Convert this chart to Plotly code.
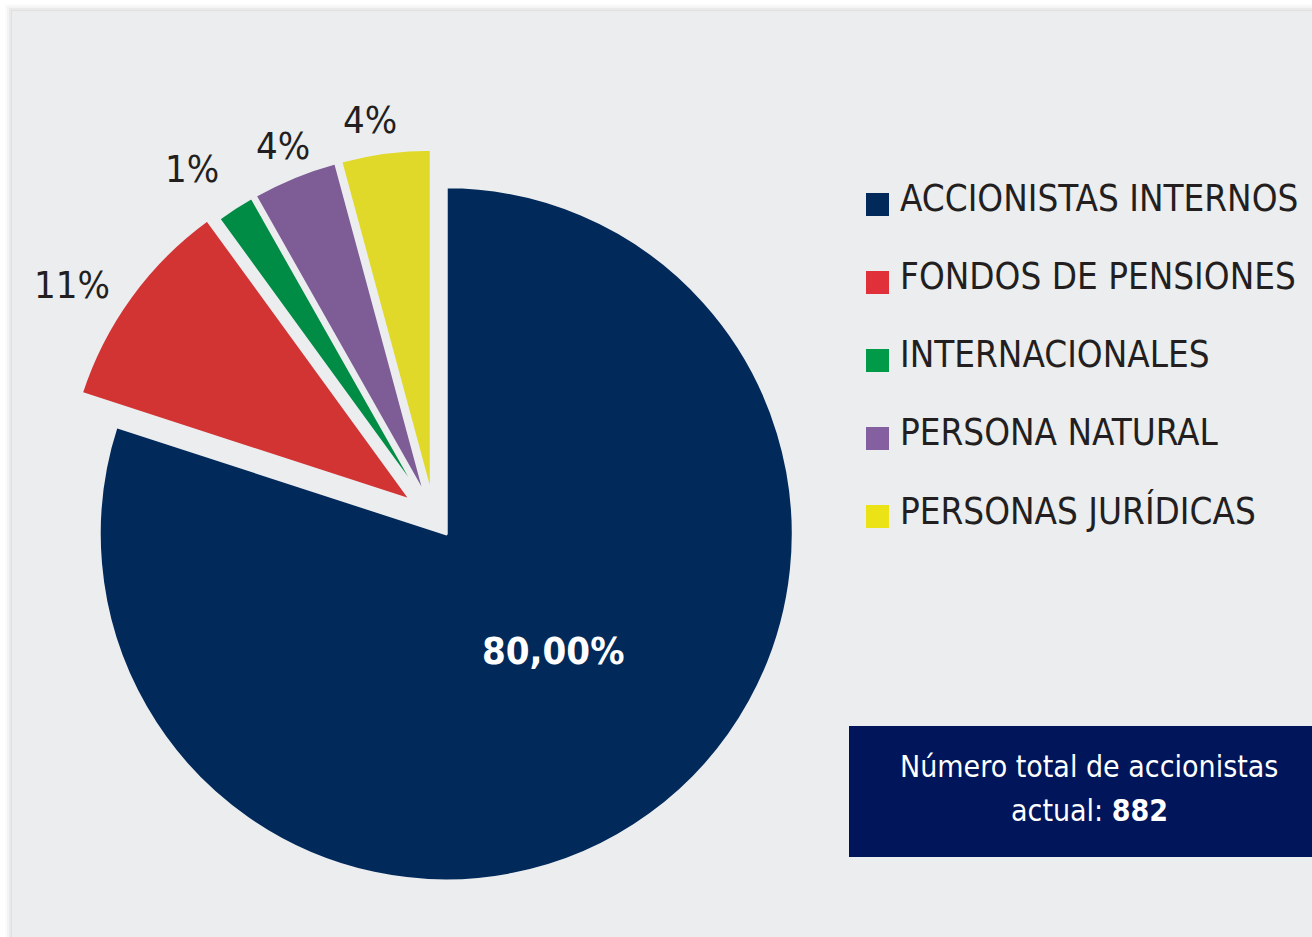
'''
composición accionaria - pie chart
'''

import plotly.graph_objects as go

#### data
categories = ['ACCIONISTAS INTERNOS', 'FONDOS DE PENSIONES', 'INTERNACIONALES',
              'PERSONA NATURAL', 'PERSONAS JURÍDICAS']
values = [80.0, 10.0, 1.8, 4.0, 4.2]
value_labels = ['80,00%', '11%', '1%', '4%', '4%']
slice_colors = ['#012A5B', '#D23434', '#008C44', '#7E5C96', '#E0D92A']
legend_colors = ['#012A5B', '#E0303A', '#009A48', '#8560A0', '#EBE316']
total_shareholders = 882

#### layout settings (pixels from top-left)
W, H = 1312, 937
BG = '#ECEDEF'
FONT = 'Liberation Sans Narrow, DejaVu Sans Condensed, sans-serif'
label_pos = [(553, 651), (72, 285), (192, 169), (283, 146), (370, 120)]
pulls = [0.06, 0.081, 0.06, 0.06, 0.06]
pie_cx, pie_cy, pie_r = 434, 517, 347
pie_half = pie_r * (1 + max(pulls))

def px(x):
    return x / W

def py(y):
    return (H - y) / H

#### pie
fig = go.Figure()
fig.add_trace(go.Pie(
    labels=categories,
    values=values,
    textinfo='none',
    sort=False,
    direction='clockwise',
    rotation=0,
    pull=pulls,
    marker=dict(colors=slice_colors, line=dict(color=BG, width=3)),
    showlegend=False,
    hoverinfo='label+percent',
    domain=dict(x=[px(pie_cx - pie_half), px(pie_cx + pie_half)],
                y=[py(pie_cy + pie_half), py(pie_cy - pie_half)]),
))

#### panel background with a soft shadow
shapes = []
for k, op in [(7, 0.06), (5, 0.10), (3, 0.16), (1, 0.22)]:
    shapes.append(dict(type='rect', xref='paper', yref='paper', layer='below',
                       x0=px(12 - k), x1=1.02, y0=-0.02, y1=py(11 - k),
                       fillcolor='#BDBDBD', opacity=op, line=dict(width=0)))
shapes.append(dict(type='rect', xref='paper', yref='paper', layer='below',
                   x0=px(12), x1=1.02, y0=-0.02, y1=py(11),
                   fillcolor=BG, line=dict(width=0)))

annotations = []

#### slice labels
for i, (txt, (x, y)) in enumerate(zip(value_labels, label_pos)):
    if i == 0:
        f = dict(family=FONT, size=38, color='white', weight='bold')
    else:
        f = dict(family=FONT, size=38, color='#231F20')
    annotations.append(dict(xref='paper', yref='paper', x=px(x), y=py(y),
                            xanchor='center', yanchor='middle', showarrow=False,
                            text=txt, font=f))

#### manual legend
row0, step = 204.5, 78
for i, (name, col) in enumerate(zip(categories, legend_colors)):
    yc = row0 + i * step
    shapes.append(dict(type='rect', xref='paper', yref='paper',
                       x0=px(866), x1=px(889), y0=py(yc + 11.5), y1=py(yc - 11.5),
                       fillcolor=col, line=dict(width=0)))
    annotations.append(dict(xref='paper', yref='paper', x=px(898), y=py(yc - 6),
                            xanchor='left', yanchor='middle', showarrow=False,
                            text=name, font=dict(family=FONT, size=36.5, color='#231F20')))

#### total box
shapes.append(dict(type='rect', xref='paper', yref='paper',
                   x0=px(849), x1=1.02, y0=py(857), y1=py(726),
                   fillcolor='#00155A', line=dict(width=0)))
box_lines = ['Número total de accionistas', f'actual: <b>{total_shareholders}</b>']
for j, line in enumerate(box_lines):
    annotations.append(dict(xref='paper', yref='paper', x=px(1089), y=py(766 + 45 * j),
                            xanchor='center', yanchor='middle', showarrow=False,
                            text=line, font=dict(family=FONT, size=30, color='white')))

fig.update_layout(
    width=W, height=H,
    margin=dict(l=0, r=0, t=0, b=0),
    paper_bgcolor='white',
    plot_bgcolor='white',
    shapes=shapes,
    annotations=annotations,
)

fig.write_html('out.html', config={'displayModeBar': False},
               post_script="document.body.style.margin='0';document.body.style.overflow='hidden';")
